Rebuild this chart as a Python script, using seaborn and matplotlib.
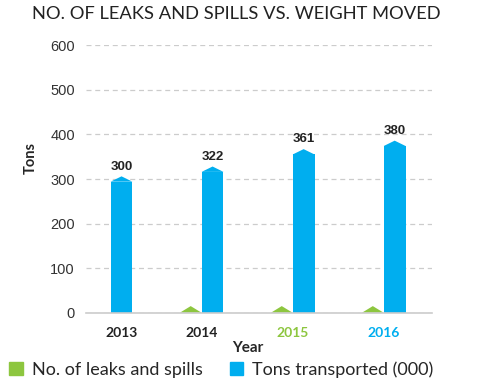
import pandas as pd
import matplotlib.pyplot as plt
import matplotlib.transforms as mtransforms
import seaborn as sns
from matplotlib.patches import Polygon, Patch

years = ["2013", "2014", "2015", "2016"]
leaks = [0, 15, 15, 15]
tons = [300, 322, 361, 380]
series_names = ["No. of leaks and spills", "Tons transported (000)"]
tick_colors = ["#222222", "#222222", "#8DC63F", "#00AEEF"]

green = "#8DC63F"
blue = "#00AEEF"

df = pd.DataFrame({
    "year": years * 2,
    "value": leaks + tons,
    "series": [series_names[0]] * 4 + [series_names[1]] * 4,
})

sns.set_style("white")
plt.rcParams['font.family'] = ['Lato', 'DejaVu Sans']

fig = plt.figure(figsize=(5, 3.9), dpi=100)
ax = fig.add_axes([0.172, 0.198, 0.692, 0.686])

sns.barplot(data=df, x="year", y="value", hue="series", order=years,
            hue_order=series_names, palette=[green, blue], width=0.48,
            saturation=1, ax=ax, legend=False)

half_cap = 6
for i, p in enumerate(ax.patches):
    x0, w, h = p.get_x(), p.get_width(), p.get_height()
    if i < len(years):
        # leaks drawn as small triangles
        p.set_visible(False)
        if h > 0:
            ax.add_patch(Polygon([(x0, 0), (x0 + w / 2, h), (x0 + w, 0)],
                                 closed=True, color=green, lw=0))
    else:
        # pointed top on the tons bars
        p.set_height(h - half_cap)
        p.set_linewidth(0)
        ax.add_patch(Polygon([(x0, h - half_cap), (x0 + w / 2, h + half_cap),
                              (x0 + w, h - half_cap)],
                             closed=True, color=blue, lw=0))
        ax.annotate(f"{int(h)}", (x0 + w / 2, h + half_cap), xytext=(0, 7),
                    textcoords="offset points", ha="center", va="center",
                    fontsize=9.5, fontweight="bold", color="#222222",
                    family="Liberation Sans")

ax.set_ylim(0, 600)
ax.set_xlim(-0.27, 3.53)
ax.set_yticks(range(0, 601, 100))
ax.yaxis.grid(True, linestyle=(0, (4, 3)), color="#cccccc", lw=0.9)
ax.set_axisbelow(True)
for s in ["top", "right", "left"]:
    ax.spines[s].set_visible(False)
ax.spines["bottom"].set_color("#cccccc")
ax.spines["bottom"].set_linewidth(1.2)
ax.tick_params(axis="both", length=0, pad=8)
ax.tick_params(axis="x", labelsize=10, pad=10)
for lbl in ax.get_yticklabels():
    lbl.set_family("Liberation Sans")
    lbl.set_fontsize(10.5)
    lbl.set_color("#333333")
for lbl, c in zip(ax.get_xticklabels(), tick_colors):
    lbl.set_color(c)
    lbl.set_fontweight("bold")
# 2013 has only the tons bar, its label sits under that bar
shift = mtransforms.ScaledTranslation(11 / 100, 0, fig.dpi_scale_trans)
ax.get_xticklabels()[0].set_transform(ax.get_xticklabels()[0].get_transform() + shift)

ax.set_xlabel("Year", fontsize=11, fontweight="bold", labelpad=2, x=0.468)
ax.set_ylabel("Tons", fontsize=10.5, fontweight="bold", labelpad=9, y=0.58)

fig.text(0.064, 0.963, "NO. OF LEAKS AND SPILLS VS. WEIGHT MOVED",
         fontsize=13.2, color="#222222", va="center")

handles = [Patch(color=green, label=series_names[0]),
           Patch(color=blue, label=series_names[1])]
fig.legend(handles=handles, loc="center left", bbox_to_anchor=(0.018, 0.052),
           ncol=2, frameon=False, fontsize=13, handlelength=0.75,
           handleheight=0.75, handletextpad=0.5, columnspacing=1.5,
           borderaxespad=0, borderpad=0)

plt.savefig("out.png", dpi=100)
